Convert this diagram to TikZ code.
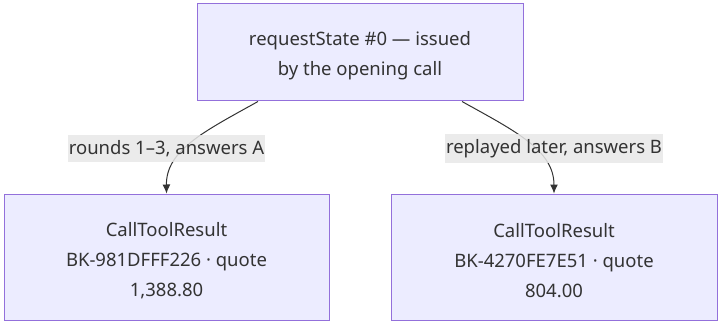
\documentclass[tikz,border=0pt]{standalone}
\usepackage{fontspec}
\setmainfont{Noto Sans}
\usetikzlibrary{arrows.meta, positioning, calc}

\definecolor{boxfill}{HTML}{ECECFF}
\definecolor{boxline}{HTML}{9370DB}
\definecolor{inkgray}{HTML}{333333}
\definecolor{tagfill}{HTML}{E8E8E8}

\newcommand{\topstrut}{\rule{0pt}{21pt}}

\tikzset{
  statebox/.style={draw=boxline, fill=boxfill, line width=1pt, minimum width=326pt,
    align=center, text=inkgray, font=\fontsize{18.5}{30}\selectfont},
  edge/.style={draw=inkgray, line width=1pt, -{Latex[length=9pt, width=8pt]}},
  tag/.style={fill=tagfill, fill opacity=0.85, text opacity=1, text=inkgray,
    inner xsep=1pt, inner ysep=5pt, font=\fontsize{18.5}{22}\selectfont}
}

\begin{document}
\begin{tikzpicture}[x=1pt, y=1pt]
    \useasboundingbox (0,0) rectangle (720,-326);

    % Nodes
    \node[statebox, minimum height=97pt] (req) at (360,-52.5) {\topstrut requestState \#0 — issued\\by the opening call};
    \node[statebox, minimum height=126pt, minimum width=325pt] (resA) at (166.5,-257) {\topstrut CallToolResult\\BK-981DFFF226 · quote\\1,388.80};
    \node[statebox, minimum height=126pt] (resB) at (554,-257) {\topstrut CallToolResult\\BK-4270FE7E51 · quote\\804.00};

    % Edges
    \draw[edge] ($(req.south)+(-102,0)$) .. controls (205,-131) and (166,-150) .. (resA.north);
    \draw[edge] ($(req.south)+(102,0)$) .. controls (515,-131) and (554,-150) .. (resB.north);

    % Edge labels
    \node[tag] (tagA) at (166.5,-148.5) {rounds 1–3, answers A};
    \node[tag] (tagB) at (554,-148.5) {replayed later, answers B};
\end{tikzpicture}
\end{document}
